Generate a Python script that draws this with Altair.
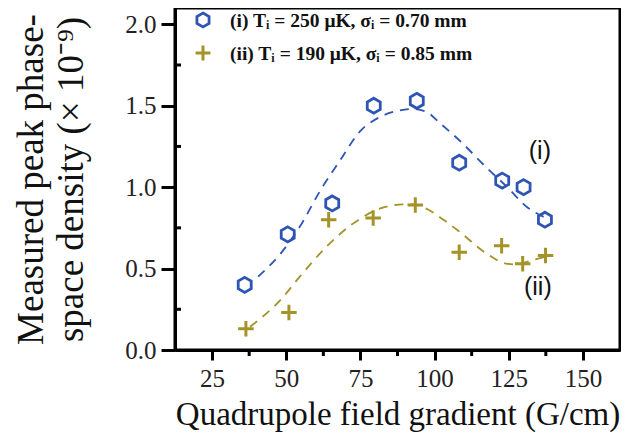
import altair as alt
import pandas as pd

# Measured points
x_i = [36, 50.5, 65.5, 79.5, 94, 108.3, 122.8, 130, 137.2]
y_i = [0.40, 0.71, 0.90, 1.50, 1.53, 1.15, 1.04, 1.00, 0.80]
x_ii = [36.4, 50.9, 64.3, 79.3, 93.5, 108.3, 122.6, 129.7, 137.4]
y_ii = [0.13, 0.23, 0.80, 0.81, 0.89, 0.60, 0.64, 0.53, 0.58]

# Dashed fit curves
fit_x_i = [40.5, 48, 54.5, 61.5, 68, 75, 81.5, 88, 92.5, 97, 102, 108.5, 117.5, 124.5, 131, 137]
fit_y_i = [0.45, 0.59, 0.755, 0.98, 1.16, 1.345, 1.43, 1.47, 1.48, 1.465, 1.39, 1.285, 1.12, 1.0, 0.88, 0.815]
fit_x_ii = [37.8, 48, 54.5, 63.5, 72.5, 81.5, 88, 92, 97, 103, 108.5, 117.5, 124, 128, 131, 137]
fit_y_ii = [0.143, 0.306, 0.449, 0.633, 0.776, 0.868, 0.893, 0.895, 0.87, 0.80, 0.725, 0.592, 0.531, 0.525, 0.541, 0.571]

x_ticks = [25, 50, 75, 100, 125, 150]
x_minor = [37.5, 62.5, 87.5, 112.5, 137.5]
y_ticks = [0.0, 0.5, 1.0, 1.5, 2.0]
y_minor = [0.25, 0.75, 1.25, 1.75]

legend_labels = ["(i) T\u1d62 = 250 \u03bcK, \u03c3\u1d62 = 0.70 mm",
                 "(ii) T\u1d62 = 190 \u03bcK, \u03c3\u1d62 = 0.85 mm"]
curve_labels = ["(i)", "(ii)"]
curve_label_x = [135.5, 134.8]
curve_label_y = [1.225, 0.386]

BLUE = "#2f55b4"
OLIVE = "#a39328"
HEX = "M0,-1L0.866,-0.5L0.866,0.5L0,1L-0.866,0.5L-0.866,-0.5Z"
PLUS = "M-1,0L1,0M0,-1L0,1"

xs = alt.Scale(domain=[12.5, 162.5], nice=False, zero=False)
ys = alt.Scale(domain=[0, 2.1], nice=False, zero=False)

pts_i = pd.DataFrame({"x": x_i, "y": y_i})
pts_ii = pd.DataFrame({"x": x_ii, "y": y_ii})
fit_i = pd.DataFrame({"x": fit_x_i, "y": fit_y_i})
fit_ii = pd.DataFrame({"x": fit_x_ii, "y": fit_y_ii})

xaxis = alt.Axis(values=x_ticks, title="Quadrupole field gradient (G/cm)", grid=False,
                 labelFont="Liberation Serif", labelFontSize=25, labelColor="#222",
                 titleFont="Liberation Serif", titleFontSize=33, titleFontWeight="normal",
                 titleColor="#111", tickSize=10, tickWidth=3, tickColor="black",
                 domainColor="black", domainWidth=3, labelPadding=6, titlePadding=7)
yaxis = alt.Axis(values=y_ticks, format=".1f",
                 title=["Measured peak phase-", "space density (\u00d7 10\u207b\u2079)"],
                 grid=False, labelFont="Liberation Serif", labelFontSize=25, labelColor="#222",
                 titleFont="Liberation Serif", titleFontSize=37, titleFontWeight="normal",
                 titleColor="#111", titleLineHeight=40, tickSize=14, tickWidth=3,
                 tickColor="black", domainColor="black", domainWidth=3,
                 labelPadding=5, titlePadding=34)

X = alt.X("x:Q", scale=xs, axis=xaxis)
Y = alt.Y("y:Q", scale=ys, axis=yaxis)

base_fit_i = alt.Chart(fit_i).mark_line(color=BLUE, strokeDash=[9, 7], strokeWidth=1.8,
                                        interpolate="monotone").encode(x=X, y=Y)
base_fit_ii = alt.Chart(fit_ii).mark_line(color=OLIVE, strokeDash=[9, 7], strokeWidth=1.8,
                                          interpolate="monotone").encode(x=X, y=Y)

hexes = alt.Chart(pts_i).mark_point(shape=HEX, size=225, filled=False, color=BLUE,
                                    strokeWidth=2.8, opacity=1).encode(x=X, y=Y)
plus = alt.Chart(pts_ii).mark_point(shape=PLUS, size=240, filled=False, color=OLIVE,
                                    strokeWidth=3, opacity=1).encode(x=X, y=Y)

# minor ticks
xminor = alt.Chart(pd.DataFrame({"x": x_minor})).mark_rule(color="black", strokeWidth=3).encode(
    x=X, y=alt.value(342), y2=alt.value(348))
yminor = alt.Chart(pd.DataFrame({"y": y_minor})).mark_rule(color="black", strokeWidth=3).encode(
    y=Y, x=alt.value(0), x2=alt.value(6))

# curve labels
cl = alt.Chart(pd.DataFrame({"x": curve_label_x, "y": curve_label_y, "t": curve_labels})).mark_text(
    font="Liberation Sans", fontSize=25, color="#111", align="center", baseline="middle").encode(
    x=X, y=Y, text="t:N")

# legend
one = pd.DataFrame({"a": [0]})
leg_sym_i = alt.Chart(one).mark_point(
    shape=HEX, size=196, filled=False, color=BLUE, strokeWidth=2.8, opacity=1).encode(
    x=alt.value(28), y=alt.value(12))
leg_sym_ii = alt.Chart(one).mark_point(
    shape=PLUS, size=220, filled=False, color=OLIVE, strokeWidth=3, opacity=1).encode(
    x=alt.value(28), y=alt.value(45))
leg_t1 = alt.Chart(one).mark_text(
    font="Liberation Serif", fontSize=19.5, fontWeight="bold", color="#111",
    align="left", baseline="middle", text=legend_labels[0]).encode(
    x=alt.value(55), y=alt.value(13))
leg_t2 = alt.Chart(one).mark_text(
    font="Liberation Serif", fontSize=19.5, fontWeight="bold", color="#111",
    align="left", baseline="middle", text=legend_labels[1]).encode(
    x=alt.value(55), y=alt.value(46))

chart = alt.layer(base_fit_i, base_fit_ii, hexes, plus, xminor, yminor, cl,
                  leg_sym_i, leg_sym_ii, leg_t1, leg_t2).properties(
    width=445, height=342,
    autosize=alt.AutoSizeParams(type="none"),
    padding={"left": 167, "top": 0, "right": 1, "bottom": 86},
    background="white",
).configure_view(stroke="black", strokeWidth=3)

chart.save("out.html", embed_options={"renderer": "svg", "actions": False})
